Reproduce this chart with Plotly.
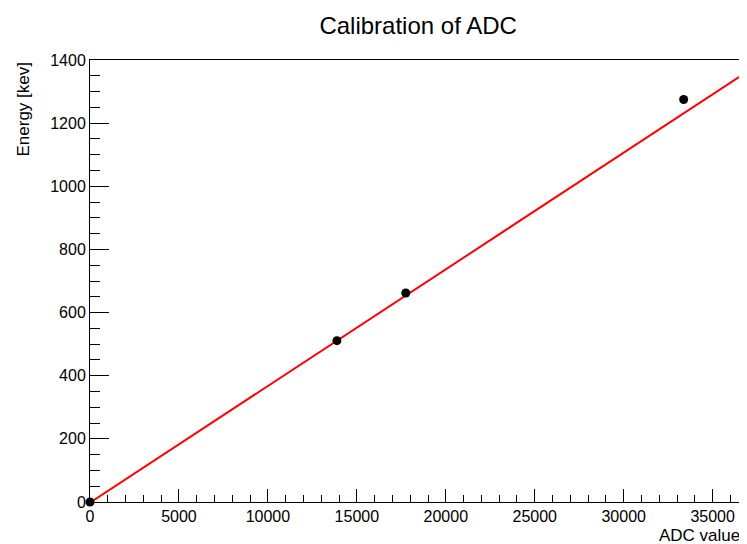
import plotly.graph_objects as go

# Data
adc_values = [0, 13880, 17750, 33370]
energy_kev = [0, 511, 662, 1275]

# Linear fit parameters (E = p0 + p1 * ADC) and drawn range
fit_p0 = -2.0
fit_p1 = 0.03695
fit_range = [0, 36500]

x_range = [0, 36650]
y_range = [0, 1400]
x_ticks = [0, 5000, 10000, 15000, 20000, 25000, 30000, 35000]
y_ticks = [0, 200, 400, 600, 800, 1000, 1200, 1400]

FONT = "Liberation Sans, Arial, Helvetica, sans-serif"

fit_x = fit_range
fit_y = [fit_p0 + fit_p1 * v for v in fit_x]

fig = go.Figure()
fig.add_trace(go.Scatter(
    x=fit_x, y=fit_y, mode="lines",
    line=dict(color="#ff0000", width=2),
    showlegend=False, hoverinfo="skip",
))
fig.add_trace(go.Scatter(
    x=adc_values, y=energy_kev, mode="markers",
    marker=dict(color="black", size=9),
    cliponaxis=False, showlegend=False,
))

fig.update_layout(
    width=739, height=536,
    margin=dict(l=82, r=5, t=52, b=42),
    paper_bgcolor="white", plot_bgcolor="white",
    font=dict(family=FONT, size=16, color="black"),
    title=dict(text="Calibration of ADC", x=0.555, xanchor="center",
               y=0.968, yanchor="middle", font=dict(size=24, family=FONT)),
    xaxis=dict(
        range=x_range, tickmode="array", tickvals=x_ticks, tickformat="d",
        ticks="inside", ticklen=13, tickwidth=1, tickcolor="black",
        showgrid=False, zeroline=False,
        showline=True, linecolor="black", linewidth=1, mirror=True,
        tickfont=dict(size=16, family=FONT),
        minor=dict(dtick=1000, tick0=0, ticks="inside", ticklen=7,
                   tickcolor="black", tickwidth=1, showgrid=False),
    ),
    yaxis=dict(
        range=y_range, tickmode="array", tickvals=y_ticks, tickformat="d",
        ticks="inside", ticklen=19, tickwidth=1, tickcolor="black",
        showgrid=False, zeroline=False,
        showline=True, linecolor="black", linewidth=1, mirror=True,
        tickfont=dict(size=16, family=FONT),
        minor=dict(dtick=50, tick0=0, ticks="inside", ticklen=10,
                   tickcolor="black", tickwidth=1, showgrid=False),
    ),
    annotations=[
        dict(text="ADC value", xref="paper", yref="paper", x=1.0, y=0,
             xanchor="right", yanchor="top", yshift=-22, showarrow=False,
             font=dict(size=17, family=FONT)),
        dict(text="Energy [kev]", xref="paper", yref="paper", x=0, y=1.0,
             xanchor="center", yanchor="top", xshift=-67, showarrow=False,
             textangle=-90, font=dict(size=17, family=FONT)),
    ],
)

fig.write_html("out.html")
